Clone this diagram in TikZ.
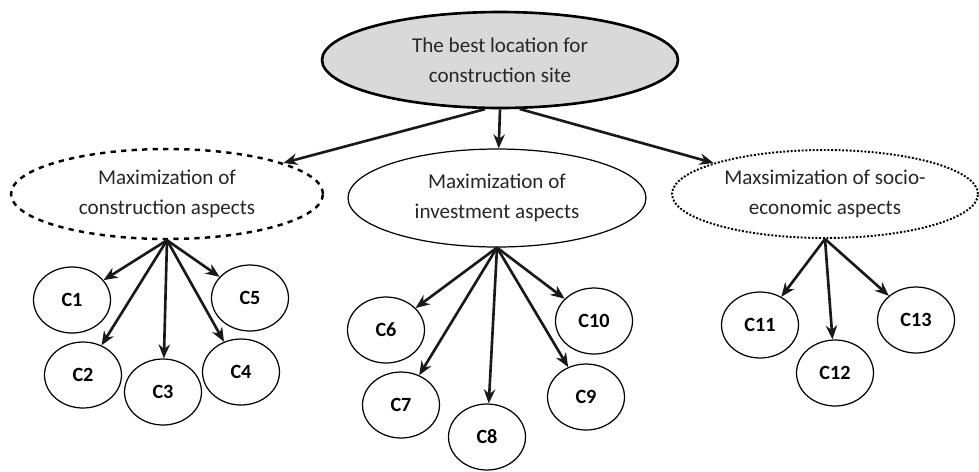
\documentclass[tikz,border=0pt]{standalone}
\usepackage{fontspec}
\setmainfont{Carlito}
\usepackage{tikz}
\usetikzlibrary{arrows.meta,shapes.geometric}

\begin{document}
\begin{tikzpicture}[x=0.02cm, y=-0.02cm, >={Stealth[length=8pt,width=6.5pt]},
  goalbox/.style={ellipse, draw, inner sep=0pt, align=center,
    font=\fontsize{12}{17}\selectfont, text=black!85},
  critbox/.style={ellipse, draw, line width=0.7pt, inner sep=0pt,
    minimum width=1.54cm, minimum height=1.32cm,
    font=\fontsize{11.5}{12}\selectfont\bfseries},
  link/.style={->, line width=1.5pt, black!90}]
  \useasboundingbox (0,0) rectangle (979,471);

  % Goal
  \node[goalbox, fill=gray!30, line width=1.5pt,
    minimum width=7.12cm, minimum height=1.92cm]
    (goal) at (500,60) {The best location for\\construction site};

  % Criteria groups
  \node[goalbox, dashed, line width=1.4pt,
    minimum width=6.24cm, minimum height=1.8cm]
    (constr) at (167,194) {Maximization of\\construction aspects};
  \node[goalbox, line width=0.7pt,
    minimum width=5.96cm, minimum height=1.96cm]
    (invest) at (497,198) {Maximization of\\investment aspects};
  \node[goalbox, densely dotted, line width=1.1pt,
    minimum width=6.12cm, minimum height=1.76cm]
    (socio) at (825,194) {Maxsimization of socio-\\economic aspects};

  \draw[link] (goal.-107) -- (constr);
  \draw[link] (goal.south) -- (invest);
  \draw[link] (goal.-68) -- (socio);

  % Construction sub-criteria
  \node[critbox] (c1) at (72,300) {C1};
  \node[critbox] (c2) at (83,375) {C2};
  \node[critbox] (c3) at (163,392) {C3};
  \node[critbox] (c4) at (241,372) {C4};
  \node[critbox] (c5) at (250,298) {C5};

  % Investment sub-criteria
  \node[critbox] (c6) at (386,330) {C6};
  \node[critbox] (c7) at (401,405) {C7};
  \node[critbox] (c8) at (487,437) {C8};
  \node[critbox] (c9) at (586,397) {C9};
  \node[critbox] (c10) at (594,321) {C10};

  % Socio-economic sub-criteria
  \node[critbox] (c11) at (760,325) {C11};
  \node[critbox] (c12) at (835,373) {C12};
  \node[critbox] (c13) at (916,320) {C13};

  \foreach \c in {c1,c2,c3,c4,c5}
    \draw[link] (constr.south) -- (\c);
  \foreach \c in {c6,c7,c8,c9,c10}
    \draw[link] (invest.south) -- (\c);
  \foreach \c in {c11,c12,c13}
    \draw[link] (socio.south) -- (\c);

\end{tikzpicture}
\end{document}
